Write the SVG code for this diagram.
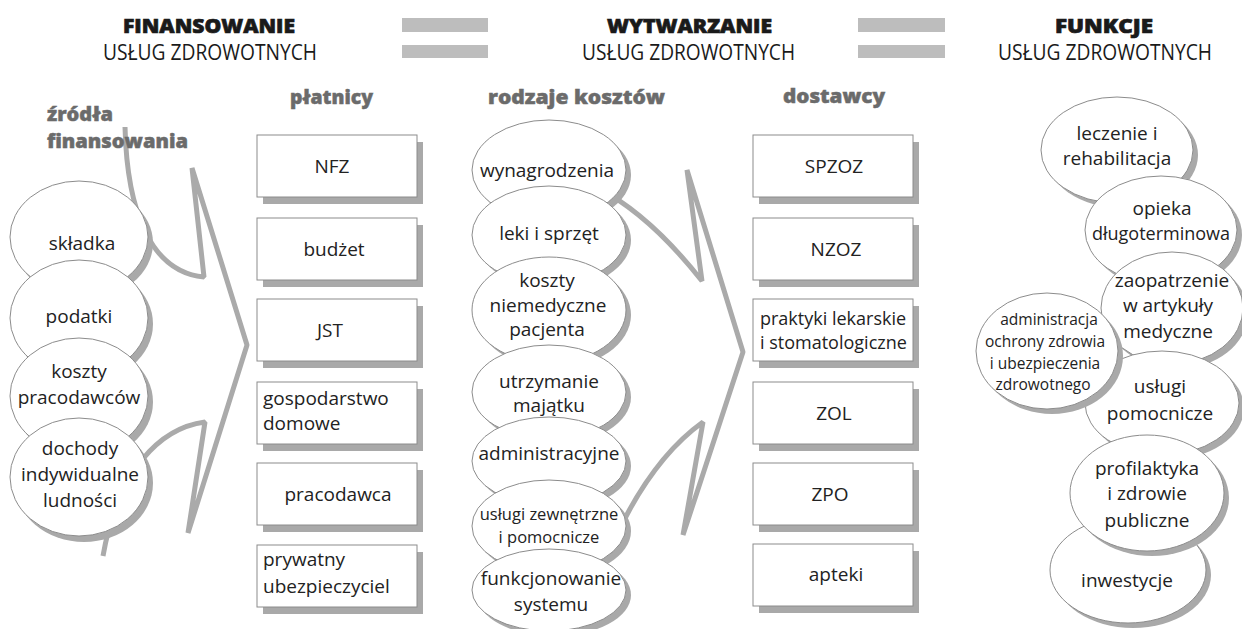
<svg xmlns="http://www.w3.org/2000/svg" width="1242" height="629" viewBox="0 0 1242 629">
<style>
.hb{font-family:"Open Sans","DejaVu Sans",sans-serif;font-weight:800;font-size:20px;fill:#1a1a1a;stroke:#1a1a1a;stroke-width:0.7px;text-anchor:middle}
.hs{font-family:"Open Sans","DejaVu Sans",sans-serif;font-size:21px;fill:#1a1a1a;text-anchor:middle}
.lb{font-family:"Open Sans","DejaVu Sans",sans-serif;font-weight:800;font-size:20px;fill:#6b6b6b;stroke:#6b6b6b;stroke-width:0.5px}
.t{font-family:"Open Sans","DejaVu Sans",sans-serif;font-size:19px;fill:#222;text-anchor:middle}
.tl{font-family:"Open Sans","DejaVu Sans",sans-serif;font-size:19px;fill:#222;text-anchor:start}
.sm{font-size:16.5px}
.xs{font-size:15.5px}
.el{fill:#fff;stroke:#8c8c8c;stroke-width:1}
.sh{fill:#a9a9a9}
.bx{fill:#fff;stroke:#8c8c8c;stroke-width:1}
.bar{fill:#bdbdbd}
.arr{fill:none;stroke:#aaaaaa;stroke-width:5;stroke-linejoin:bevel}
</style>
<rect width="1242" height="629" fill="#fff"/>

<g id="header">
<text class="hb" x="209" y="33" textLength="172" lengthAdjust="spacingAndGlyphs">FINANSOWANIE</text>
<text class="hs" x="210" y="60" textLength="214" lengthAdjust="spacingAndGlyphs">USŁUG ZDROWOTNYCH</text>
<rect class="bar" x="402" y="18" width="86" height="14"/>
<rect class="bar" x="402" y="45" width="86" height="13"/>
<text class="hb" x="689.5" y="33" textLength="165" lengthAdjust="spacingAndGlyphs">WYTWARZANIE</text>
<text class="hs" x="688.5" y="60" textLength="213" lengthAdjust="spacingAndGlyphs">USŁUG ZDROWOTNYCH</text>
<rect class="bar" x="858" y="18" width="87" height="14"/>
<rect class="bar" x="858" y="45" width="87" height="13"/>
<text class="hb" x="1104" y="33" textLength="98" lengthAdjust="spacingAndGlyphs">FUNKCJE</text>
<text class="hs" x="1105" y="60" textLength="214" lengthAdjust="spacingAndGlyphs">USŁUG ZDROWOTNYCH</text>
</g>

<g id="connectors">
<path class="arr" d="M125,127 C127,210 150,272 204,277 L192,168 L247,345 L188,533 L205,422 C160,428 118,470 103,556"/>
<path class="arr" d="M598,188 Q650,215 702,281 L687,170 L743,352 L683,535 L703,422 Q650,460 612,545"/>
</g>

<g id="labels">
<text class="lb" x="47" y="121" textLength="66" lengthAdjust="spacingAndGlyphs">źródła</text>
<text class="lb" x="47" y="148" textLength="141" lengthAdjust="spacingAndGlyphs">finansowania</text>
<text class="lb" x="290" y="104" textLength="83" lengthAdjust="spacingAndGlyphs">płatnicy</text>
<text class="lb" x="488" y="104" textLength="177" lengthAdjust="spacingAndGlyphs">rodzaje kosztów</text>
<text class="lb" x="783" y="103" textLength="102" lengthAdjust="spacingAndGlyphs">dostawcy</text>
</g>

<!-- źródła finansowania -->
<g id="n-skladka"><ellipse class="sh" cx="84" cy="243" rx="69" ry="56"/><ellipse class="el" cx="79" cy="237" rx="69" ry="56"/><text class="t" x="82" y="250">składka</text></g>
<g id="n-podatki"><ellipse class="sh" cx="84" cy="324" rx="69" ry="58"/><ellipse class="el" cx="79" cy="318" rx="69" ry="58"/><text class="t" x="79" y="323">podatki</text></g>
<g id="n-koszty-prac"><ellipse class="sh" cx="84" cy="402" rx="69" ry="58"/><ellipse class="el" cx="79" cy="396" rx="69" ry="58"/><text class="t" x="79" y="378">koszty</text><text class="t" x="79" y="404">pracodawców</text></g>
<g id="n-dochody"><ellipse class="sh" cx="84" cy="483" rx="69" ry="59"/><ellipse class="el" cx="79" cy="477" rx="69" ry="59"/><text class="t" x="80" y="455">dochody</text><text class="t" x="80" y="481">indywidualne</text><text class="t" x="80" y="507">ludności</text></g>

<!-- płatnicy -->
<g id="n-nfz"><rect class="sh" x="263" y="142" width="160" height="62"/><rect class="bx" x="257" y="135" width="160" height="62"/><text class="t" x="332" y="173">NFZ</text></g>
<g id="n-budzet"><rect class="sh" x="263" y="225" width="160" height="62"/><rect class="bx" x="257" y="218" width="160" height="62"/><text class="t" x="334" y="256">budżet</text></g>
<g id="n-jst"><rect class="sh" x="263" y="306" width="160" height="62"/><rect class="bx" x="257" y="299" width="160" height="62"/><text class="t" x="330" y="337">JST</text></g>
<g id="n-gosp"><rect class="sh" x="263" y="389" width="160" height="62"/><rect class="bx" x="257" y="382" width="160" height="62"/><text class="tl" x="263" y="405">gospodarstwo</text><text class="tl" x="263" y="430">domowe</text></g>
<g id="n-pracodawca"><rect class="sh" x="263" y="470" width="160" height="62"/><rect class="bx" x="257" y="463" width="160" height="62"/><text class="t" x="338" y="501">pracodawca</text></g>
<g id="n-prywatny"><rect class="sh" x="263" y="552" width="160" height="62"/><rect class="bx" x="257" y="545" width="160" height="62"/><text class="tl" x="263" y="566">prywatny</text><text class="tl" x="263" y="593">ubezpieczyciel</text></g>

<!-- rodzaje kosztów -->
<g id="n-wynagr"><ellipse class="sh" cx="554" cy="175" rx="77" ry="50"/><ellipse class="el" cx="549" cy="170" rx="77" ry="50"/><text class="t" x="547" y="177">wynagrodzenia</text></g>
<g id="n-leki"><ellipse class="sh" cx="554" cy="240" rx="77" ry="49"/><ellipse class="el" cx="549" cy="235" rx="77" ry="49"/><text class="t" x="549" y="240">leki i sprzęt</text></g>
<g id="n-niemed"><ellipse class="sh" cx="554" cy="315" rx="77" ry="53"/><ellipse class="el" cx="549" cy="310" rx="77" ry="53"/><text class="t" x="547" y="287">koszty</text><text class="t" x="548" y="312">niemedyczne</text><text class="t" x="547" y="336">pacjenta</text></g>
<g id="n-utrzym"><ellipse class="sh" cx="554" cy="397" rx="77" ry="47"/><ellipse class="el" cx="549" cy="392" rx="77" ry="47"/><text class="t" x="549" y="388">utrzymanie</text><text class="t" x="549" y="412">majątku</text></g>
<g id="n-admin-k"><ellipse class="sh" cx="554" cy="466" rx="77" ry="44"/><ellipse class="el" cx="549" cy="461" rx="77" ry="44"/><text class="t" x="549" y="460">administracyjne</text></g>
<g id="n-uslugi-z"><ellipse class="sh" cx="554" cy="531" rx="77" ry="46"/><ellipse class="el" cx="549" cy="526" rx="77" ry="46"/><text class="t sm" x="549" y="520">usługi zewnętrzne</text><text class="t sm" x="549" y="543">i pomocnicze</text></g>
<g id="n-funkc"><ellipse class="sh" cx="554" cy="595" rx="77" ry="41"/><ellipse class="el" cx="549" cy="590" rx="77" ry="41"/><text class="t" x="551" y="585">funkcjonowanie</text><text class="t" x="551" y="611">systemu</text></g>

<!-- dostawcy -->
<g id="n-spzoz"><rect class="sh" x="759" y="142" width="160" height="62"/><rect class="bx" x="753" y="135" width="160" height="62"/><text class="t" x="834" y="173">SPZOZ</text></g>
<g id="n-nzoz"><rect class="sh" x="759" y="225" width="160" height="62"/><rect class="bx" x="753" y="218" width="160" height="62"/><text class="t" x="836" y="256">NZOZ</text></g>
<g id="n-praktyki"><rect class="sh" x="759" y="306" width="160" height="62"/><rect class="bx" x="753" y="299" width="160" height="62"/><text class="tl" x="760" y="325" style="font-size:18px">praktyki lekarskie</text><text class="tl" x="760" y="349" style="font-size:18px">i stomatologiczne</text></g>
<g id="n-zol"><rect class="sh" x="759" y="389" width="160" height="62"/><rect class="bx" x="753" y="382" width="160" height="62"/><text class="t" x="834" y="420">ZOL</text></g>
<g id="n-zpo"><rect class="sh" x="759" y="470" width="160" height="62"/><rect class="bx" x="753" y="463" width="160" height="62"/><text class="t" x="830" y="501">ZPO</text></g>
<g id="n-apteki"><rect class="sh" x="759" y="551" width="160" height="62"/><rect class="bx" x="753" y="544" width="160" height="62"/><text class="t" x="836" y="581">apteki</text></g>

<!-- funkcje -->
<g id="n-leczenie"><ellipse class="sh" cx="1122" cy="155" rx="76" ry="53"/><ellipse class="el" cx="1117" cy="150" rx="76" ry="53"/><text class="t" x="1117" y="140">leczenie i</text><text class="t" x="1117" y="165">rehabilitacja</text></g>
<g id="n-opieka"><ellipse class="sh" cx="1166" cy="235" rx="76" ry="54"/><ellipse class="el" cx="1161" cy="230" rx="76" ry="54"/><text class="t" x="1162" y="215">opieka</text><text class="t" x="1161" y="240" style="font-size:18px">długoterminowa</text></g>
<g id="n-zaopatrz"><ellipse class="sh" cx="1177" cy="313" rx="71" ry="56"/><ellipse class="el" cx="1172" cy="308" rx="71" ry="56"/><text class="t" x="1172" y="287">zaopatrzenie</text><text class="t" x="1168" y="312">w artykuły</text><text class="t" x="1168" y="338">medyczne</text></g>
<g id="n-uslugi-p"><ellipse class="sh" cx="1167" cy="408" rx="77" ry="52"/><ellipse class="el" cx="1162" cy="403" rx="77" ry="52"/><text class="t" x="1160" y="393">usługi</text><text class="t" x="1160" y="420">pomocnicze</text></g>
<g id="n-inwest"><ellipse class="sh" cx="1133" cy="575" rx="78" ry="53"/><ellipse class="el" cx="1128" cy="570" rx="78" ry="53"/><text class="t" x="1127" y="587">inwestycje</text></g>
<g id="n-profil"><ellipse class="sh" cx="1152" cy="498" rx="77" ry="58"/><ellipse class="el" cx="1147" cy="493" rx="77" ry="58"/><text class="t" x="1147" y="475">profilaktyka</text><text class="t" x="1147" y="500">i zdrowie</text><text class="t" x="1147" y="527">publiczne</text></g>
<g id="n-admin-f"><ellipse class="sh" cx="1052" cy="356" rx="71" ry="58"/><ellipse class="el" cx="1047" cy="351" rx="71" ry="58"/><text class="t xs" x="1049" y="325">administracja</text><text class="t xs" x="1045" y="347">ochrony zdrowia</text><text class="t xs" x="1045" y="369">i ubezpieczenia</text><text class="t xs" x="1043" y="390">zdrowotnego</text></g>
</svg>
